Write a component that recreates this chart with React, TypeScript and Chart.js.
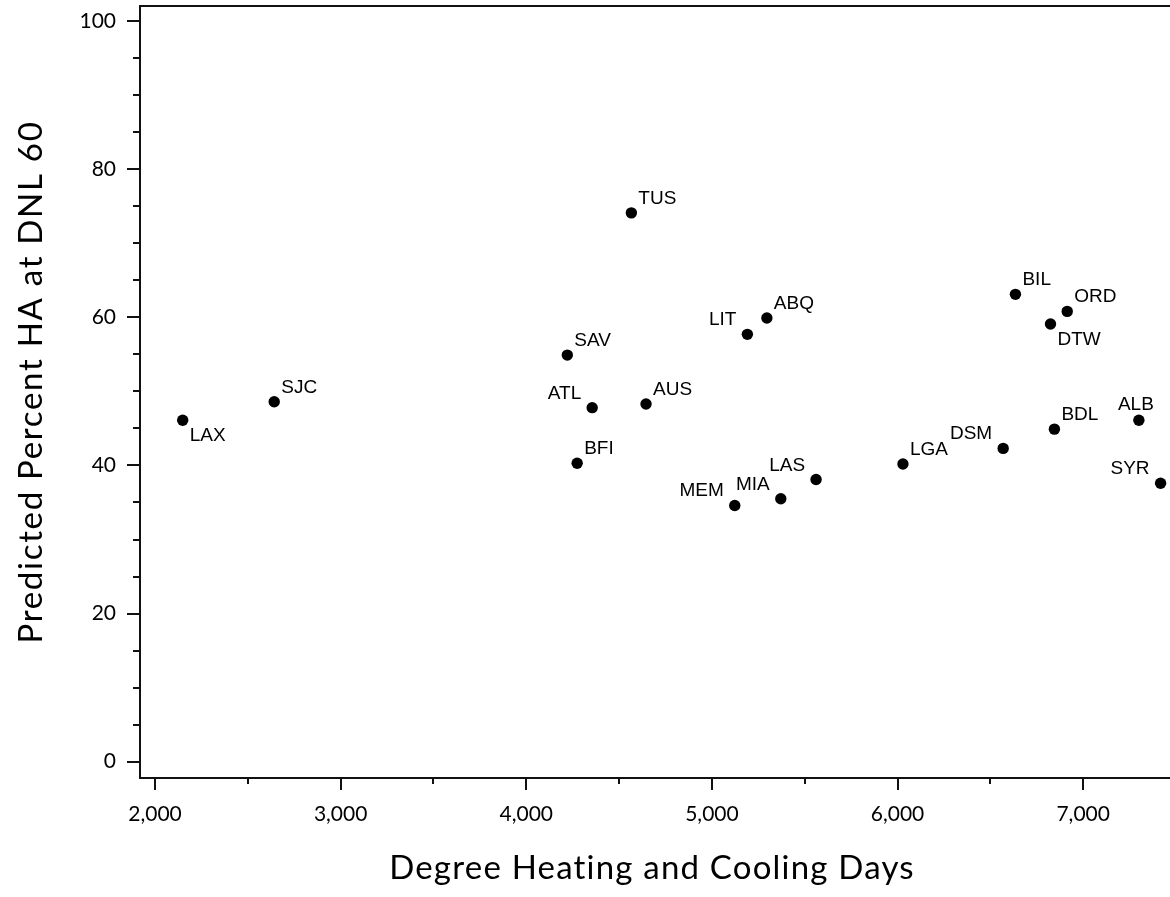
import React, { useEffect, useRef } from 'react';
import { Chart, registerables } from 'chart.js';

Chart.register(...registerables);

const airports = ['LAX', 'SJC', 'TUS', 'ABQ', 'LIT', 'SAV', 'ATL', 'AUS', 'BFI', 'MEM', 'MIA', 'LAS', 'LGA', 'DSM', 'BDL', 'ALB', 'SYR', 'BIL', 'ORD', 'DTW'];
const degreeDays = [2149, 2642, 4566, 5296, 5191, 4221, 4355, 4645, 4274, 5123, 5371, 5561, 6029, 6569, 6845, 7300, 7417, 6635, 6914, 6824];
const percentHA = [46.1, 48.6, 74.1, 59.9, 57.7, 54.9, 47.8, 48.3, 40.3, 34.6, 35.5, 38.1, 40.2, 42.3, 44.9, 46.1, 37.6, 63.1, 60.8, 59.1];
const labelPlacement = ['se', 'ne', 'ne', 'ne', 'nw', 'ne', 'nw', 'ne', 'ne', 'nw', 'nw', 'nw', 'ne', 'nw', 'ne', 'n', 'nw', 'ne', 'ne', 'se'];

const xMajorTicks = [2000, 3000, 4000, 5000, 6000, 7000];
const xMinorTicks = [2500, 3500, 4500, 5500, 6500];
const yMajorTicks = [0, 20, 40, 60, 80, 100];
const yMinorTicks = [5, 10, 15, 25, 30, 35, 45, 50, 55, 65, 70, 75, 85, 90, 95];

const xTitle = 'Degree Heating and Cooling Days';
const yTitle = 'Predicted Percent HA at DNL 60';

const AXIS_FONT = 'Lato';
const LABEL_FONT = '"Liberation Sans", Arial, sans-serif';

const decorPlugin = {
  id: 'decor',
  afterDatasetsDraw(chart: any) {
    const { ctx, chartArea, scales } = chart;
    const xs = scales.x;
    const ys = scales.y;
    const right = chart.width;
    ctx.save();
    ctx.strokeStyle = '#111';
    ctx.lineWidth = 2;
    ctx.lineCap = 'butt';
    ctx.beginPath();
    ctx.moveTo(chartArea.left, chartArea.top);
    ctx.lineTo(chartArea.left, chartArea.bottom);
    ctx.lineTo(right, chartArea.bottom);
    ctx.moveTo(chartArea.left - 1, chartArea.top);
    ctx.lineTo(right, chartArea.top);
    ctx.stroke();
    ctx.beginPath();
    yMajorTicks.forEach((v) => {
      const y = Math.round(ys.getPixelForValue(v));
      ctx.moveTo(chartArea.left - 13, y);
      ctx.lineTo(chartArea.left, y);
    });
    yMinorTicks.forEach((v) => {
      const y = Math.round(ys.getPixelForValue(v));
      ctx.moveTo(chartArea.left - 7, y);
      ctx.lineTo(chartArea.left, y);
    });
    xMajorTicks.forEach((v) => {
      const x = Math.round(xs.getPixelForValue(v));
      ctx.moveTo(x, chartArea.bottom);
      ctx.lineTo(x, chartArea.bottom + 12);
    });
    xMinorTicks.forEach((v) => {
      const x = Math.round(xs.getPixelForValue(v));
      ctx.moveTo(x, chartArea.bottom);
      ctx.lineTo(x, chartArea.bottom + 6);
    });
    ctx.stroke();

    ctx.fillStyle = '#000';
    ctx.font = `19px ${LABEL_FONT}`;
    ctx.textBaseline = 'alphabetic';
    const meta = chart.getDatasetMeta(0);
    meta.data.forEach((pt: any, i: number) => {
      const p = labelPlacement[i];
      const x = pt.x;
      const y = pt.y;
      const t = airports[i];
      if (p === 'ne') {
        ctx.textAlign = 'left';
        ctx.fillText(t, x + 7, y - 9);
      } else if (p === 'nw') {
        ctx.textAlign = 'right';
        ctx.fillText(t, x - 11, y - 9);
      } else if (p === 'se') {
        ctx.textAlign = 'left';
        ctx.fillText(t, x + 7, y + 21);
      } else {
        ctx.textAlign = 'center';
        ctx.fillText(t, x - 3, y - 10);
      }
    });

    ctx.font = `33px ${AXIS_FONT}`;
    ctx.textAlign = 'center';
    ctx.textBaseline = 'alphabetic';
    try { (ctx as any).letterSpacing = '1.2px'; } catch (e) { /* ignore */ }
    ctx.fillText(xTitle, 652, 879);
    try { (ctx as any).letterSpacing = '1.7px'; } catch (e) { /* ignore */ }
    ctx.save();
    ctx.translate(42, 382);
    ctx.rotate(-Math.PI / 2);
    ctx.fillText(yTitle, 0, 0);
    ctx.restore();
    try { (ctx as any).letterSpacing = '0px'; } catch (e) { /* ignore */ }
    ctx.restore();
  },
};

export default function App() {
  const canvasRef = useRef<HTMLCanvasElement | null>(null);

  useEffect(() => {
    const canvas = canvasRef.current;
    if (!canvas) return;
    const points = degreeDays.map((x, i) => ({ x, y: percentHA[i] }));
    const chart = new Chart(canvas, {
      type: 'scatter',
      data: {
        datasets: [
          {
            data: points,
            backgroundColor: '#000',
            borderWidth: 0,
            pointRadius: 5.7,
            pointHoverRadius: 5.7,
            clip: false,
          },
        ],
      },
      options: {
        responsive: false,
        animation: false,
        devicePixelRatio: 1,
        layout: { padding: { top: 6, right: 0, left: 0, bottom: 0 } },
        plugins: {
          legend: { display: false },
          tooltip: { enabled: false },
          title: { display: false },
        },
        scales: {
          x: {
            type: 'linear',
            min: 1919,
            max: 7437,
            grid: { display: false, drawTicks: false },
            border: { display: false },
            afterBuildTicks: (scale: any) => {
              scale.ticks = xMajorTicks.map((v) => ({ value: v }));
            },
            afterFit: (scale: any) => {
              scale.height = 119;
              scale.paddingLeft = 0;
              scale.paddingRight = 0;
              scale.paddingTop = 0;
              scale.paddingBottom = 0;
            },
            ticks: {
              padding: 24,
              autoSkip: false,
              maxRotation: 0,
              color: '#000',
              font: { family: AXIS_FONT, size: 21 },
              callback: (v: any) => Number(v).toLocaleString('en-US'),
            },
          },
          y: {
            type: 'linear',
            min: -2.2,
            max: 102.03,
            grid: { display: false, drawTicks: false },
            border: { display: false },
            afterBuildTicks: (scale: any) => {
              scale.ticks = yMajorTicks.map((v) => ({ value: v }));
            },
            afterFit: (scale: any) => {
              scale.width = 140;
              scale.paddingLeft = 0;
              scale.paddingRight = 0;
              scale.paddingTop = 0;
              scale.paddingBottom = 0;
            },
            ticks: {
              padding: 24,
              autoSkip: false,
              color: '#000',
              font: { family: AXIS_FONT, size: 21 },
              callback: (v: any) => String(v),
            },
          },
        },
      },
      plugins: [decorPlugin],
    });
    return () => chart.destroy();
  }, []);

  return (
    <div style={{ position: 'absolute', left: 0, top: 0, width: 1170, height: 897, background: '#fff' }}>
      <canvas ref={canvasRef} width={1170} height={897} style={{ display: 'block' }} />
    </div>
  );
}
